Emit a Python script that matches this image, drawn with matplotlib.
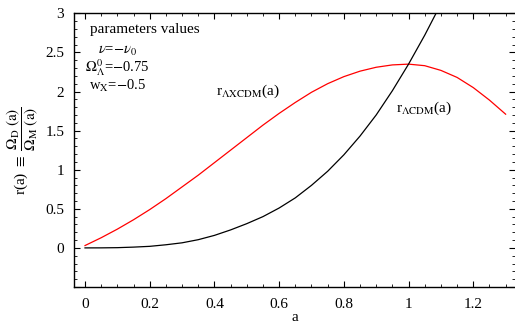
import matplotlib
matplotlib.use("Agg")
import matplotlib.pyplot as plt
from matplotlib.ticker import MultipleLocator, FuncFormatter

plt.rcParams['font.family'] = ['Liberation Serif', 'DejaVu Serif']
plt.rcParams['mathtext.fontset'] = 'stix'

a_vals = [0.0, 0.05, 0.1, 0.15, 0.2, 0.25, 0.3, 0.35, 0.4, 0.45, 0.5, 0.55, 0.6,
          0.65, 0.7, 0.75, 0.8, 0.85, 0.9, 0.95, 1.0, 1.05, 1.1, 1.15, 1.2, 1.25, 1.3]
r_axcdm = [0.03, 0.13, 0.24, 0.36, 0.49, 0.63, 0.78, 0.93, 1.09, 1.25, 1.41, 1.57, 1.72,
           1.86, 1.99, 2.10, 2.19, 2.26, 2.31, 2.34, 2.35, 2.33, 2.27, 2.18, 2.05, 1.89, 1.71]
a_lcdm = [0.0, 0.05, 0.1, 0.15, 0.2, 0.25, 0.3, 0.35, 0.4, 0.45, 0.5, 0.55, 0.6,
          0.65, 0.7, 0.75, 0.8, 0.85, 0.9, 0.95, 1.0, 1.05, 1.1]
r_lcdm = [0.0, 0.0005, 0.003, 0.01, 0.02, 0.04, 0.065, 0.105, 0.16, 0.23, 0.31, 0.40, 0.51,
          0.64, 0.80, 0.98, 1.19, 1.43, 1.70, 2.01, 2.35, 2.72, 3.12]

fig = plt.figure(figsize=(5.15, 3.25), dpi=100)
ax = fig.add_axes([74/515, 1-287/325, 1-74/515, (287-13.3)/325])

ax.plot(a_vals, r_axcdm, color='#ff0000', lw=0.9)
ax.plot(a_lcdm, r_lcdm, color='black', lw=0.9)

ax.set_xlim(-0.034, 1.329)
ax.set_ylim(-0.5, 3.0)
ax.spines['right'].set_visible(False)
for s in ['left', 'bottom', 'top']:
    ax.spines[s].set_linewidth(1.0)

ax.xaxis.set_major_locator(MultipleLocator(0.2))
ax.xaxis.set_minor_locator(MultipleLocator(0.05))
ax.yaxis.set_major_locator(MultipleLocator(0.5))
ax.yaxis.set_minor_locator(MultipleLocator(0.1))
ax.tick_params(which='both', direction='in', top=True, right=True, labelsize=11)
ax.tick_params(which='major', length=4, width=0.8)
ax.tick_params(which='minor', length=2, width=0.6)
ax.xaxis.set_major_formatter(FuncFormatter(lambda v, p: '%g' % round(v, 2)))
ax.yaxis.set_major_formatter(FuncFormatter(lambda v, p: ('%g' % round(v, 2)) if v >= 0 else ''))
ax.tick_params(axis='x', pad=8)
ax.tick_params(axis='y', pad=7)

ax.set_xlabel('a', fontsize=11, labelpad=0)
ax.set_ylabel(r'r(a) $\equiv$ $\dfrac{\Omega_{\rm D}\ (\mathrm{a})}{\Omega_{\rm M}\ (\mathrm{a})}$',
              fontsize=11, labelpad=3)

ax.text(0.015, 2.79, 'parameters values', fontsize=11, va='center', ha='left')
ax.text(0.099, 2.52, r'$\nu$=$-\nu_0$', fontsize=10.5, va='center', ha='center')
ax.text(0.099, 2.31, r'$\Omega^0_\Lambda$=$-$0.75', fontsize=10.5, va='center', ha='center')
ax.text(0.099, 2.07, r'w$_{\rm X}$=$-$0.5', fontsize=10.5, va='center', ha='center')
ax.text(0.405, 2.0, r'r$_{\Lambda{\rm XCDM}}$(a)', fontsize=11, va='center', ha='left')
ax.text(0.961, 1.79, r'r$_{\Lambda{\rm CDM}}$(a)', fontsize=11, va='center', ha='left')

fig.savefig('out.png', dpi=100)
